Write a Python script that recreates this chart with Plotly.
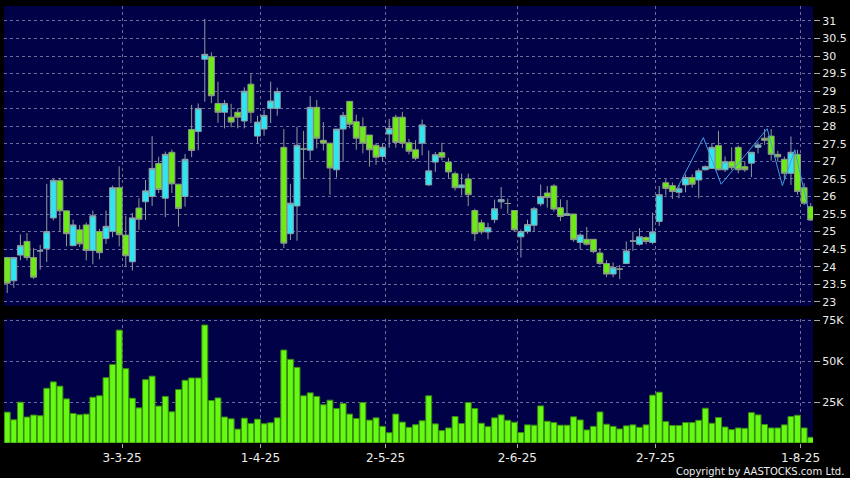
import plotly.graph_objects as go

# ---------------- data ----------------
opens = [24.26, 23.6, 24.33, 24.72, 24.26, 24.45, 24.51, 25.39, 26.45, 25.59,
         24.6, 25.05, 25.19, 24.46, 25.0, 24.8, 25.0, 26.25, 24.9, 24.14,
         25.67, 25.85, 26.0, 26.94, 25.95, 27.26, 26.35, 26.0, 27.91, 27.85,
         29.91, 29.98, 28.65, 28.4, 28.26, 28.4, 28.15, 29.2, 27.72, 27.92,
         28.51, 28.51, 27.4, 24.94, 25.73, 27.35, 27.32, 28.54, 27.6, 27.52,
         26.76, 27.92, 28.71, 28.13, 27.99, 27.75, 27.46, 27.14, 27.78, 28.26,
         28.26, 27.53, 27.33, 27.52, 26.33, 26.98, 27.25, 26.98, 26.65, 26.25,
         26.5, 25.6, 25.25, 24.99, 25.34, 25.85, 25.8, 25.6, 24.85, 25.0,
         25.18, 25.79, 26.1, 26.3, 25.68, 25.46, 25.5, 24.69, 24.78, 24.78,
         24.39, 24.09, 23.79, 23.93, 24.09, 24.73, 24.64, 24.83, 24.69, 25.29,
         26.39, 26.31, 26.12, 26.33, 26.54, 26.47, 26.76, 26.8, 27.45, 26.76,
         26.99, 27.4, 26.85, 26.95, 27.4, 27.66, 27.72, 27.2, 27.06, 26.66,
         27.2, 26.25, 25.71]
highs = [24.28, 24.28, 24.92, 24.96, 24.53, 24.62, 26.36, 26.5, 26.53, 25.59,
         25.34, 25.19, 25.26, 25.6, 25.08, 25.6, 26.31, 26.86, 25.45, 25.53,
         25.95, 26.47, 27.72, 27.13, 27.28, 27.34, 26.35, 27.21, 28.61, 28.65,
         31.06, 30.11, 29.27, 28.75, 28.64, 28.51, 29.11, 29.51, 28.3, 28.47,
         29.27, 29.1, 27.92, 26.36, 27.99, 27.87, 28.86, 28.75, 28.12, 27.52,
         27.92, 28.41, 28.71, 28.33, 28.25, 27.75, 27.52, 27.52, 28.21, 28.33,
         28.41, 27.64, 27.6, 28.19, 27.31, 27.27, 27.53, 27.1, 26.71, 26.65,
         26.65, 25.65, 25.34, 25.25, 25.91, 26.27, 25.94, 25.6, 25.06, 25.34,
         25.7, 26.34, 26.3, 26.35, 25.92, 25.9, 25.5, 24.95, 25.13, 24.78,
         24.53, 24.19, 24.12, 24.05, 24.72, 25.0, 25.1, 24.87, 25.54, 26.3,
         26.49, 26.4, 26.33, 26.63, 26.63, 26.8, 26.88, 27.52, 27.87, 27.14,
         27.4, 27.45, 26.99, 27.26, 27.56, 27.92, 27.92, 27.3, 27.14, 27.71,
         27.33, 26.38, 25.81]
lows = [23.25, 23.4, 24.18, 24.18, 23.65, 23.91, 24.13, 25.32, 24.99, 24.58,
        24.58, 24.56, 24.18, 24.07, 24.21, 24.65, 24.84, 24.58, 23.99, 23.89,
        25.05, 25.33, 25.73, 26.1, 25.41, 26.1, 25.14, 25.71, 27.12, 27.32,
        28.7, 28.66, 28.1, 27.94, 27.97, 27.94, 27.94, 28.09, 27.52, 27.73,
        28.09, 28.3, 24.53, 24.76, 24.74, 26.5, 27.04, 27.37, 27.31, 26.05,
        26.54, 27.0, 27.94, 27.33, 27.23, 26.85, 26.9, 26.99, 27.39, 27.39,
        27.38, 27.2, 27.03, 27.17, 26.3, 26.7, 27.03, 26.51, 26.17, 26.03,
        25.73, 24.73, 24.92, 24.78, 25.24, 25.65, 25.51, 24.99, 24.26, 24.94,
        25.0, 25.72, 25.68, 25.57, 25.3, 25.45, 24.71, 24.5, 24.6, 24.38,
        24.05, 23.7, 23.7, 23.65, 24.09, 24.45, 24.6, 24.64, 24.64, 25.16,
        26.03, 25.93, 25.95, 26.12, 26.25, 25.95, 26.74, 26.8, 26.75, 26.7,
        26.75, 26.66, 26.7, 26.55, 27.23, 27.47, 27.02, 27.0, 26.5, 26.33,
        26.05, 25.76, 25.3]
closes = [23.53, 24.26, 24.6, 24.26, 23.7, 24.45, 25.0, 26.46, 25.59, 24.94,
          25.19, 24.65, 24.46, 25.45, 24.4, 25.15, 26.25, 24.91, 24.31, 25.39,
          25.35, 26.16, 26.8, 26.2, 27.2, 26.36, 25.66, 27.06, 27.31, 28.51,
          30.05, 28.87, 28.4, 28.65, 28.12, 28.26, 29.0, 28.4, 28.12, 28.31,
          28.72, 28.99, 24.67, 25.81, 27.46, 27.35, 28.54, 27.66, 27.52, 26.81,
          27.92, 28.31, 28.06, 27.66, 27.52, 27.33, 27.12, 27.4, 27.94, 27.54,
          27.52, 27.29, 27.09, 28.04, 26.73, 27.19, 27.12, 26.7, 26.25, 26.33,
          26.05, 24.94, 24.99, 25.11, 25.65, 25.91, 25.8, 25.05, 25.0, 25.2,
          25.65, 26.0, 25.97, 25.64, 25.43, 25.51, 24.77, 24.9, 24.64, 24.43,
          24.09, 23.79, 23.98, 23.93, 24.45, 24.73, 24.85, 24.72, 24.99, 26.05,
          26.23, 26.14, 26.22, 26.54, 26.35, 26.73, 26.85, 27.4, 26.76, 26.99,
          26.82, 26.76, 26.76, 27.26, 27.47, 27.6, 27.2, 27.13, 26.66, 27.26,
          26.14, 25.81, 25.33]
volumes_k = [18.9, 14.2, 25.0, 15.9, 17.1, 16.7, 33.5, 37.4, 34.8, 27.0,
             18.1, 17.3, 17.7, 28.0, 28.9, 40.0, 48.0, 69.1, 45.5, 27.4,
             21.5, 38.8, 40.9, 22.6, 28.5, 19.1, 32.7, 38.4, 39.8, 39.8,
             72.2, 26.0, 27.6, 15.9, 14.8, 8.5, 15.2, 12.0, 14.6, 11.8,
             12.4, 15.4, 56.9, 51.2, 46.3, 28.9, 30.7, 28.5, 23.4, 26.2,
             21.1, 24.2, 17.7, 15.0, 24.8, 14.0, 15.4, 10.2, 6.3, 17.7,
             12.8, 9.6, 11.2, 13.6, 28.9, 11.7, 7.6, 9.2, 16.2, 11.9,
             24.8, 21.1, 12.1, 10.0, 15.4, 17.2, 13.9, 12.7, 6.4, 11.1,
             10.9, 22.7, 13.3, 12.5, 10.9, 10.9, 16.0, 14.1, 8.0, 10.2,
             19.0, 11.5, 10.2, 8.6, 10.5, 11.1, 9.6, 11.1, 29.3, 31.1,
             13.1, 10.7, 10.7, 12.5, 12.5, 13.9, 21.3, 12.1, 15.6, 9.8,
             8.2, 9.2, 9.0, 18.6, 17.2, 11.3, 9.2, 9.2, 11.1, 16.2,
             17.0, 9.2, 3.5]
day_index = list(range(len(opens)))

tick_days = [17, 38, 57, 77, 98, 120]
tick_labels = ["3-3-25", "1-4-25", "2-5-25", "2-6-25", "2-7-25", "1-8-25"]

zigzag_days = [101.7, 105.7, 108.4, 115.4, 117.7, 119.6, 121.6]
zigzag_prices = [26.22, 27.68, 26.35, 27.93, 26.31, 27.33, 25.67]

price_ticks = [23 + 0.5 * i for i in range(17)]
price_tick_labels = [f"{v:g}" for v in price_ticks]
volume_ticks = [25000, 50000, 75000]
volume_tick_labels = ["25K", "50K", "75K"]

# ---------------- style ----------------
NAVY = "#010148"
GRID = "#6b6b9c"
CYAN = "#2ee6f2"
GREEN = "#6cec14"
TEXT = "#ececec"
FONT = "DejaVu Sans"

volumes = [v * 1000 for v in volumes_k]
grid_pos = [d + 0.45 for d in tick_days]

fig = go.Figure()
fig.add_trace(go.Candlestick(
    x=day_index, open=opens, high=highs, low=lows, close=closes,
    increasing=dict(fillcolor=CYAN, line=dict(color="#8e9ea4", width=1)),
    decreasing=dict(fillcolor=GREEN, line=dict(color="#8e9a86", width=1)),
    whiskerwidth=0, xaxis="x", yaxis="y", showlegend=False, hoverinfo="skip"))
fig.add_trace(go.Scatter(
    x=zigzag_days, y=zigzag_prices, mode="lines",
    line=dict(color="#3f9fe6", width=1), xaxis="x", yaxis="y",
    showlegend=False, hoverinfo="skip"))
fig.add_trace(go.Bar(
    x=day_index, y=volumes,
    marker=dict(color="#66fa12", line=dict(color="#3a8a12", width=1)),
    xaxis="x2", yaxis="y2", showlegend=False, hoverinfo="skip"))

xrange = [-0.49, 122.35]
common_x = dict(range=xrange, showgrid=True, gridcolor=GRID, griddash="3px,3px",
                gridwidth=1, zeroline=False, showline=False, tickvals=grid_pos,
                fixedrange=True)
fig.update_layout(
    width=850, height=478,
    paper_bgcolor="black", plot_bgcolor=NAVY,
    margin=dict(l=4, r=37, t=6, b=35, autoexpand=False),
    font=dict(family=FONT, color=TEXT, size=11),
    boxgap=0.1, boxgroupgap=0, bargap=0.1,
    xaxis=dict(domain=[0, 1], anchor="y", showticklabels=False, ticks="",
               rangeslider=dict(visible=False), **common_x),
    xaxis2=dict(domain=[0, 1], anchor="y2", ticktext=tick_labels, ticks="outside",
                ticklen=4, tickcolor="#aaaaaa", tickfont=dict(size=12, color=TEXT),
                **common_x),
    yaxis=dict(domain=[0.314, 1], anchor="x", side="right", range=[22.886, 31.427],
               tickvals=price_ticks, ticktext=price_tick_labels, ticks="outside",
               ticklen=6, tickcolor="#aaaaaa", showgrid=True, gridcolor=GRID,
               griddash="3px,3px", zeroline=False, showline=False, fixedrange=True),
    yaxis2=dict(domain=[0, 0.2836], anchor="x2", side="right", range=[0, 75860],
                tickvals=volume_ticks, ticktext=volume_tick_labels, ticks="outside",
                ticklen=6, tickcolor="#aaaaaa", showgrid=True, gridcolor=GRID,
                griddash="3px,3px", zeroline=False, showline=False, fixedrange=True),
    annotations=[dict(text="Copyright by AASTOCKS.com Ltd.", xref="paper", yref="paper",
                      x=1.0408, y=-0.065, xanchor="right", yanchor="middle",
                      showarrow=False, font=dict(size=10, color=TEXT, family=FONT))],
)

fig.write_html("out.html", config={"displayModeBar": False},
               post_script="document.body.style.margin='0';document.body.style.padding='0';"
                           "document.body.style.overflow='hidden';"
                           "document.body.style.background='black';")
